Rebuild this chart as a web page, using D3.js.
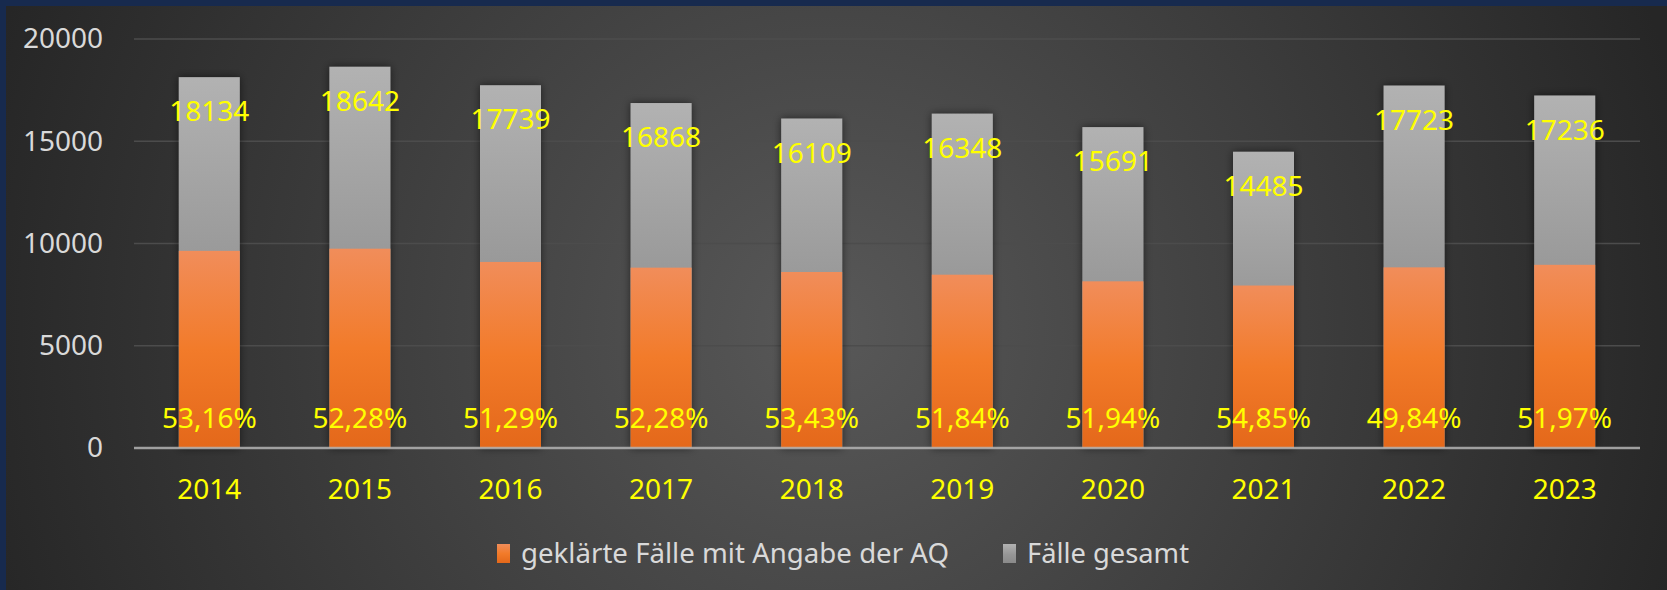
<!DOCTYPE html>
<html>
<head>
<meta charset="utf-8">
<script src="https://cdn.jsdelivr.net/npm/d3@7"></script>
<style>
    body { margin: 0; background: #172a4e; overflow: hidden; }
    svg { display: block; }
</style>
</head>
<body>
<script>
(function(){

// chart data
var years = ["2014", "2015", "2016", "2017", "2018", "2019", "2020", "2021", "2022", "2023"];
var totalCases = [18134, 18642, 17739, 16868, 16109, 16348, 15691, 14485, 17723, 17236];
var clearedCases = [9640, 9746, 9098, 8819, 8607, 8475, 8150, 7945, 8833, 8958];
var pctLabels = ["53,16%", "52,28%", "51,29%", "52,28%", "53,43%", "51,84%", "51,94%", "54,85%", "49,84%", "51,97%"];
var yTicks = [0, 5000, 10000, 15000, 20000];
var seriesNames = ["geklärte Fälle mit Angabe der AQ", "Fälle gesamt"];

// dimensions
var width = 1667,
    height = 590,
    plotLeft = 134,
    plotRight = 1640,
    plotTop = 39,
    plotBottom = 448;

var svg = d3.select("body")
    .append("svg")
    .attr("width", width)
    .attr("height", height);

var defs = svg.append("defs");

// background gradient
var bg = defs.append("radialGradient")
    .attr("id", "bgGrad")
    .attr("gradientUnits", "userSpaceOnUse")
    .attr("cx", 830).attr("cy", 330).attr("r", 880);
bg.append("stop").attr("offset", "0%").attr("stop-color", "#585858");
bg.append("stop").attr("offset", "100%").attr("stop-color", "#262626");

// bar gradients
var grayGrad = defs.append("linearGradient")
    .attr("id", "grayGrad")
    .attr("x1", 0).attr("y1", 0).attr("x2", 0).attr("y2", 1);
grayGrad.append("stop").attr("offset", "0%").attr("stop-color", "#b2b2b2");
grayGrad.append("stop").attr("offset", "55%").attr("stop-color", "#969696");
grayGrad.append("stop").attr("offset", "100%").attr("stop-color", "#8a8a8a");

var orangeGrad = defs.append("linearGradient")
    .attr("id", "orangeGrad")
    .attr("x1", 0).attr("y1", 0).attr("x2", 0).attr("y2", 1);
orangeGrad.append("stop").attr("offset", "0%").attr("stop-color", "#f18d5a");
orangeGrad.append("stop").attr("offset", "50%").attr("stop-color", "#f27b2a");
orangeGrad.append("stop").attr("offset", "100%").attr("stop-color", "#e4681a");

// soft shadow under bars
var shadow = defs.append("filter")
    .attr("id", "shadow")
    .attr("x", "-30%").attr("y", "-10%")
    .attr("width", "160%").attr("height", "120%");
shadow.append("feDropShadow")
    .attr("dx", 0).attr("dy", 0)
    .attr("stdDeviation", 4)
    .attr("flood-color", "#000")
    .attr("flood-opacity", 0.55);

// background panel (blue frame shows on top and left)
svg.append("rect")
    .attr("x", 6).attr("y", 6)
    .attr("width", width - 6).attr("height", height - 6)
    .attr("fill", "url(#bgGrad)");

// scales
var x = d3.scaleBand()
    .domain(years)
    .range([plotLeft, plotRight])
    .paddingInner(0.595)
    .paddingOuter(0.2975);

var y = d3.scaleLinear()
    .domain([0, 20000])
    .range([plotBottom, plotTop]);

// gridlines
svg.append("g")
    .selectAll("line")
    .data(yTicks.filter(function(d){ return d > 0; }))
    .enter()
    .append("line")
    .attr("x1", plotLeft).attr("x2", plotRight)
    .attr("y1", function(d){ return y(d); })
    .attr("y2", function(d){ return y(d); })
    .attr("stroke", "#4c4c4c")
    .attr("stroke-width", 1.5);

// y axis labels
var yAxis = svg.append("g")
    .attr("transform", "translate(103,0)")
    .call(d3.axisLeft(y).tickValues(yTicks).tickSize(0).tickPadding(0).tickFormat(d3.format("d")));
yAxis.select(".domain").remove();
yAxis.selectAll("text")
    .attr("fill", "#d9d9d9")
    .style("font-family", "'Noto Sans', sans-serif")
    .style("font-size", "28px");

// total bars (behind)
svg.append("g")
    .selectAll("rect")
    .data(totalCases)
    .enter()
    .append("rect")
    .attr("x", function(d, i){ return x(years[i]); })
    .attr("y", function(d){ return y(d); })
    .attr("width", x.bandwidth())
    .attr("height", function(d){ return y(0) - y(d); })
    .attr("fill", "url(#grayGrad)")
    .attr("filter", "url(#shadow)");

// cleared bars (front)
svg.append("g")
    .selectAll("rect")
    .data(clearedCases)
    .enter()
    .append("rect")
    .attr("x", function(d, i){ return x(years[i]); })
    .attr("y", function(d){ return y(d); })
    .attr("width", x.bandwidth())
    .attr("height", function(d){ return y(0) - y(d); })
    .attr("fill", "url(#orangeGrad)");

// zero axis line
svg.append("line")
    .attr("x1", plotLeft).attr("x2", plotRight)
    .attr("y1", y(0)).attr("y2", y(0))
    .attr("stroke", "#b4b4b4")
    .attr("stroke-opacity", 0.85)
    .attr("stroke-width", 2.5);

var labelFont = "'Noto Sans', sans-serif";

// total value labels
svg.append("g")
    .selectAll("text")
    .data(totalCases)
    .enter()
    .append("text")
    .attr("x", function(d, i){ return x(years[i]) + x.bandwidth() / 2; })
    .attr("y", function(d){ return y(d) + 44; })
    .attr("text-anchor", "middle")
    .attr("fill", "#ffff00")
    .style("font-family", labelFont)
    .style("font-size", "28px")
    .text(function(d){ return d; });

// percentage labels
svg.append("g")
    .selectAll("text")
    .data(pctLabels)
    .enter()
    .append("text")
    .attr("x", function(d, i){ return x(years[i]) + x.bandwidth() / 2; })
    .attr("y", y(0) - 20)
    .attr("text-anchor", "middle")
    .attr("fill", "#ffff00")
    .style("font-family", labelFont)
    .style("font-size", "28px")
    .text(function(d){ return d; });

// year labels
svg.append("g")
    .selectAll("text")
    .data(years)
    .enter()
    .append("text")
    .attr("x", function(d){ return x(d) + x.bandwidth() / 2; })
    .attr("y", 499)
    .attr("text-anchor", "middle")
    .attr("fill", "#ffff00")
    .style("font-family", labelFont)
    .style("font-size", "28px")
    .text(function(d){ return d; });

// legend
var legendItems = [
    {name: seriesNames[0], fill: "url(#orangeGrad)", x: 497, len: 428},
    {name: seriesNames[1], fill: "url(#grayGrad)", x: 1003, len: 162}
];

var legend = svg.append("g")
    .selectAll("g")
    .data(legendItems)
    .enter()
    .append("g")
    .attr("transform", function(d){ return "translate(" + d.x + ",0)"; });

legend.append("rect")
    .attr("x", 0).attr("y", 544)
    .attr("width", 13).attr("height", 19)
    .attr("fill", function(d){ return d.fill; });

legend.append("text")
    .attr("x", 24)
    .attr("y", 563)
    .attr("fill", "#d9d9d9")
    .attr("textLength", function(d){ return d.len; })
    .attr("lengthAdjust", "spacingAndGlyphs")
    .style("font-family", labelFont)
    .style("font-size", "28px")
    .text(function(d){ return d.name; });

})();
</script>
</body>
</html>
